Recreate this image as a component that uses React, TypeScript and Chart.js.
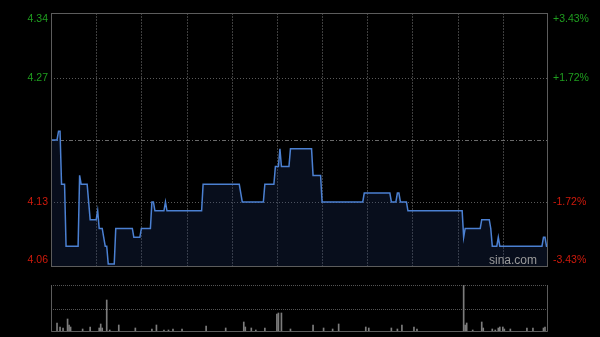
import React, { useEffect, useRef } from 'react';
import { Chart, registerables } from 'chart.js';
Chart.register(...registerables);

// Intraday price, run-length encoded: each price holds for runLengths[i] minutes
const runPrices = [4.20, 4.21, 4.15, 4.08, 4.16, 4.15, 4.13, 4.11, 4.12, 4.10, 4.09, 4.08, 4.06, 4.10, 4.09, 4.10, 4.13, 4.12, 4.13, 4.12, 4.15, 4.14, 4.13, 4.15, 4.17, 4.19, 4.17, 4.19, 4.16, 4.13, 4.14, 4.13, 4.14, 4.13, 4.12, 4.09, 4.10, 4.11, 4.10, 4.08, 4.09, 4.08, 4.09, 4.08];
const runLengths = [5, 2, 3, 9, 1, 5, 1, 5, 1, 3, 1, 2, 5, 12, 5, 7, 2, 7, 1, 24, 25, 1, 15, 7, 3, 1, 6, 15, 6, 28, 18, 4, 2, 5, 37, 1, 11, 6, 1, 4, 1, 29, 2, 2];

// Volume: minute index and volume at that minute
const volIndex = [4, 6, 8, 11, 12, 13, 21, 26, 32, 33, 34, 37, 39, 45, 56, 67, 70, 75, 78, 81, 87, 103, 116, 128, 129, 133, 136, 142, 150, 151, 153, 159, 174, 181, 187, 191, 209, 211, 226, 230, 233, 241, 243, 274, 275, 276, 280, 286, 287, 293, 295, 297, 298, 300, 301, 305, 316, 320, 327, 328];
const volValues = [9, 5, 4, 13, 7, 5, 3, 5, 4, 8, 4, 32, 2, 7, 4, 3, 7, 2, 2, 3, 3, 6, 4, 10, 5, 4, 2, 4, 18, 19, 19, 3, 7, 4, 3, 8, 5, 4, 4, 3, 7, 5, 3, 47, 7, 9, 2, 10, 4, 3, 2, 4, 5, 5, 3, 3, 4, 4, 4, 5];

const TOTAL_MINUTES = 331;
const prevClose = 4.20;
const priceTicks = [4.34, 4.27, 4.13, 4.06];
const pctTicks = ['+3.43%', '+1.72%', '-1.72%', '-3.43%'];
const gridMinutes = [30, 60, 90, 120, 150, 180, 210, 240, 270, 300];
const priceMin = 4.0576;
const priceMax = 4.3435;

const GREEN = '#1f9e1f';
const RED = '#d01a0c';
const FONT = '10.5px "Liberation Sans", Arial, sans-serif';

function buildPrices(): number[] {
  const out: number[] = [];
  runPrices.forEach((p, i) => {
    for (let k = 0; k < runLengths[i]; k++) out.push(p);
  });
  return out;
}

function buildVolumes(): number[] {
  const out: number[] = new Array(TOTAL_MINUTES).fill(0);
  volIndex.forEach((idx, i) => { out[idx] = volValues[i]; });
  return out;
}

const labels = Array.from({ length: TOTAL_MINUTES }, (_, i) => String(i));

const mainPlugin = {
  id: 'mainDecor',
  beforeDatasetsDraw(chart: any) {
    const { ctx, chartArea: a, scales } = chart;
    const xs = scales.x, ys = scales.y;
    ctx.save();
    ctx.lineWidth = 1;
    ctx.strokeStyle = '#3e3e3e';
    ctx.setLineDash([2, 1]);
    gridMinutes.forEach((m) => {
      const px = Math.round(xs.getPixelForValue(m)) + 0.5;
      ctx.beginPath(); ctx.moveTo(px, a.top); ctx.lineTo(px, a.bottom); ctx.stroke();
    });
    ctx.strokeStyle = '#5a5a5a';
    ctx.setLineDash([1, 2]);
    [priceTicks[1], priceTicks[2]].forEach((p) => {
      const py = Math.round(ys.getPixelForValue(p)) + 0.5;
      ctx.beginPath(); ctx.moveTo(a.left, py); ctx.lineTo(a.right, py); ctx.stroke();
    });
    ctx.strokeStyle = '#6a6a6a';
    ctx.setLineDash([4, 2, 1, 2]);
    const pc = Math.round(ys.getPixelForValue(prevClose)) + 0.5;
    ctx.beginPath(); ctx.moveTo(a.left, pc); ctx.lineTo(a.right, pc); ctx.stroke();
    ctx.restore();
  },
  afterDatasetsDraw(chart: any) {
    const { ctx, chartArea: a, scales } = chart;
    const ys = scales.y;
    ctx.save();
    ctx.strokeStyle = '#5c5c5c';
    ctx.lineWidth = 1;
    ctx.setLineDash([]);
    ctx.strokeRect(Math.round(a.left) + 0.5, Math.round(a.top) + 0.5, Math.round(a.right - a.left) - 1, Math.round(a.bottom - a.top));
    ctx.font = FONT;
    ctx.textBaseline = 'middle';
    priceTicks.forEach((p, i) => {
      let py = ys.getPixelForValue(p);
      py = Math.max(a.top + 6, Math.min(a.bottom - 6, py));
      ctx.fillStyle = p > prevClose ? GREEN : RED;
      ctx.textAlign = 'right';
      ctx.fillText(p.toFixed(2), a.left - 3, py);
      ctx.textAlign = 'left';
      ctx.fillText(pctTicks[i], a.right + 5, py);
    });
    ctx.fillStyle = '#9a9a9a';
    ctx.font = '12px "Liberation Sans", Arial, sans-serif';
    ctx.textAlign = 'right';
    ctx.fillText('sina.com', a.right - 11, a.bottom - 5);
    ctx.restore();
  },
};

const volPlugin = {
  id: 'volDecor',
  beforeDatasetsDraw(chart: any) {
    const { ctx, chartArea: a } = chart;
    ctx.save();
    ctx.lineWidth = 1;
    ctx.strokeStyle = '#555';
    ctx.setLineDash([1, 1]);
    const top = Math.round(a.top) + 0.5;
    const mid = Math.round((a.top + a.bottom) / 2) + 0.5;
    [top, mid].forEach((py) => {
      ctx.beginPath(); ctx.moveTo(a.left, py); ctx.lineTo(a.right, py); ctx.stroke();
    });
    ctx.restore();
  },
  afterDatasetsDraw(chart: any) {
    const { ctx, chartArea: a } = chart;
    ctx.save();
    ctx.lineWidth = 1;
    ctx.strokeStyle = '#5c5c5c';
    ctx.setLineDash([]);
    const l = Math.round(a.left) + 0.5, r = Math.round(a.right) - 0.5, b = Math.round(a.bottom) - 0.5, t = Math.round(a.top);
    ctx.beginPath();
    ctx.moveTo(l, t); ctx.lineTo(l, b); ctx.lineTo(r, b); ctx.lineTo(r, t);
    ctx.stroke();
    ctx.restore();
  },
};

export default function App() {
  const mainRef = useRef<HTMLCanvasElement>(null);
  const volRef = useRef<HTMLCanvasElement>(null);

  useEffect(() => {
    document.body.style.margin = '0';
    document.body.style.background = '#000';
    const prices = buildPrices();
    const vols = buildVolumes();
    const maxVol = Math.max(...vols);

    const main = new Chart(mainRef.current as HTMLCanvasElement, {
      type: 'line',
      data: {
        labels,
        datasets: [{
          data: prices,
          borderColor: '#4b80d2',
          borderWidth: 1.5,
          pointRadius: 0,
          tension: 0,
          fill: 'start',
          backgroundColor: 'rgba(30,55,110,0.25)',
        }],
      },
      options: {
        responsive: false,
        animation: false,
        events: [],
        layout: { padding: { left: 51, right: 52, top: 13, bottom: 9 } },
        plugins: { legend: { display: false }, tooltip: { enabled: false } },
        scales: {
          x: { display: false, offset: false },
          y: { display: false, min: priceMin, max: priceMax },
        },
      },
      plugins: [mainPlugin],
    });

    const vol = new Chart(volRef.current as HTMLCanvasElement, {
      type: 'bar',
      data: {
        labels,
        datasets: [{
          data: vols,
          backgroundColor: '#7c7c7c',
          barThickness: 1,
        }],
      },
      options: {
        responsive: false,
        animation: false,
        events: [],
        layout: { padding: { left: 51, right: 52, top: 5, bottom: 5 } },
        plugins: { legend: { display: false }, tooltip: { enabled: false } },
        scales: {
          x: { display: false, offset: false },
          y: { display: false, min: 0, max: maxVol },
        },
      },
      plugins: [volPlugin],
    });

    return () => { main.destroy(); vol.destroy(); };
  }, []);

  return (
    <div style={{ position: 'relative', width: 600, height: 337, background: '#000', overflow: 'hidden' }}>
      <canvas ref={mainRef} width={600} height={275} style={{ position: 'absolute', left: 0, top: 0, width: 600, height: 275 }} />
      <canvas ref={volRef} width={600} height={57} style={{ position: 'absolute', left: 0, top: 280, width: 600, height: 57 }} />
    </div>
  );
}
